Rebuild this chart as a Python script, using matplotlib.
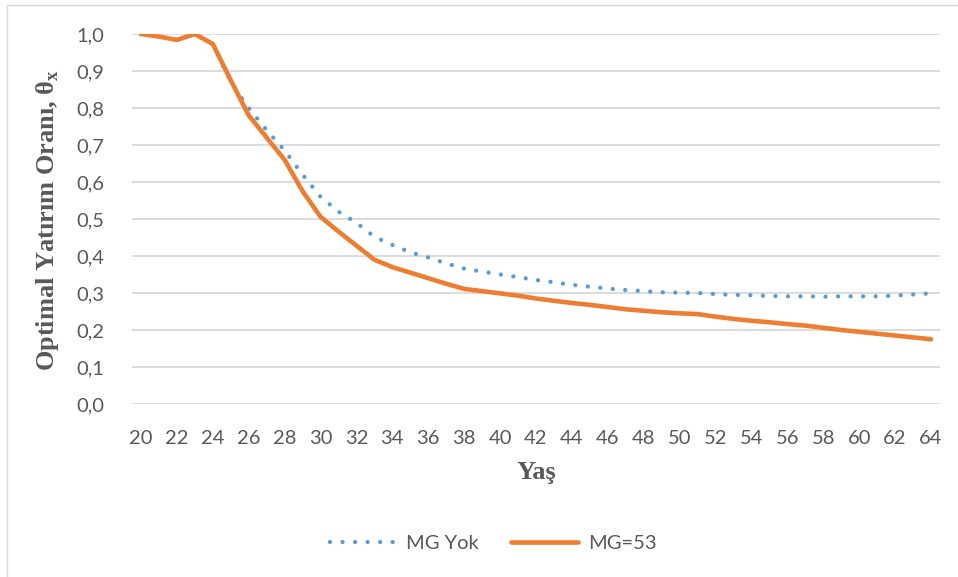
import matplotlib
matplotlib.use("Agg")
import matplotlib.pyplot as plt
from matplotlib.patches import Rectangle
from matplotlib.ticker import FuncFormatter

# age axis and the two series
ages = list(range(20, 65))
mg_yok = [1.0, 0.993, 0.984, 1.0, 0.973, 0.87, 0.80, 0.74, 0.685, 0.62,
          0.56, 0.52, 0.49, 0.452, 0.43, 0.41, 0.396, 0.38, 0.366, 0.358,
          0.35, 0.343, 0.335, 0.329, 0.322, 0.317, 0.312, 0.308, 0.305, 0.302,
          0.301, 0.30, 0.297, 0.295, 0.294, 0.292, 0.291, 0.291, 0.29, 0.291,
          0.291, 0.291, 0.293, 0.296, 0.299]
mg_53 = [1.0, 0.993, 0.984, 1.0, 0.973, 0.875, 0.78, 0.72, 0.66, 0.575,
         0.506, 0.466, 0.428, 0.39, 0.37, 0.355, 0.34, 0.325, 0.311, 0.305,
         0.299, 0.293, 0.285, 0.279, 0.273, 0.268, 0.262, 0.256, 0.252, 0.248,
         0.245, 0.243, 0.236, 0.23, 0.225, 0.221, 0.216, 0.212, 0.206, 0.20,
         0.195, 0.19, 0.185, 0.18, 0.175]
xticks = list(range(20, 65, 2))
yticks = [i / 10 for i in range(11)]

tick_font = "Lato"
label_font = "Liberation Serif"
gray = "#595959"

fig = plt.figure(figsize=(9.58, 5.77), dpi=100)
W, H = 958, 577
ax = fig.add_axes([132 / W, 1 - 404 / H, (940 - 132) / W, 370 / H])

# outer chart border (left and top visible)
fig.patches.append(Rectangle((7 / W, -0.1), 1.2, 1.1 - 5 / H,
                             transform=fig.transFigure, fill=False,
                             edgecolor="#D9D9D9", linewidth=1))

ax.plot(ages, mg_yok, color="#5B9BD5", linewidth=3.1,
        linestyle=(0, (0.01, 2.9)), dash_capstyle="round",
        label="MG Yok", zorder=3)
ax.plot(ages, mg_53, color="#ED7D31", linewidth=3.3,
        solid_capstyle="round", solid_joinstyle="round",
        label="MG=53", zorder=4)

ax.set_xlim(19.5, 64.5)
ax.set_ylim(0, 1.0)
ax.set_xticks(xticks)
ax.set_yticks(yticks)
ax.yaxis.set_major_formatter(FuncFormatter(lambda v, p: "{:.1f}".format(v).replace(".", ",")))
ax.grid(True, axis="y", color="#D9D9D9", linewidth=1.3)
ax.set_axisbelow(True)
for s in ax.spines.values():
    s.set_visible(False)
ax.tick_params(length=0, labelsize=14.5, labelcolor=gray)
ax.tick_params(axis="x", pad=19)
ax.tick_params(axis="y", pad=20)
for lab in ax.get_xticklabels() + ax.get_yticklabels():
    lab.set_family(tick_font)

fig.text(48 / W, 1 - 220 / H, "Optimal Yatırım Oranı, θ$_\\mathregular{x}$",
         rotation=90, ha="center", va="center", fontsize=19,
         fontweight="bold", family=label_font, color=gray)
fig.text(536 / W, 1 - 472 / H, "Yaş", ha="center", va="center",
         fontsize=19, fontweight="bold", family=label_font, color=gray)

leg = fig.legend(loc="center", bbox_to_anchor=(493 / W, 1 - 543 / H),
                 ncol=2, frameon=False, handlelength=3.3, handletextpad=0.5,
                 columnspacing=1.6, prop={"family": tick_font, "size": 14.5})
for t in leg.get_texts():
    t.set_color(gray)

fig.savefig("out.png", dpi=100)
